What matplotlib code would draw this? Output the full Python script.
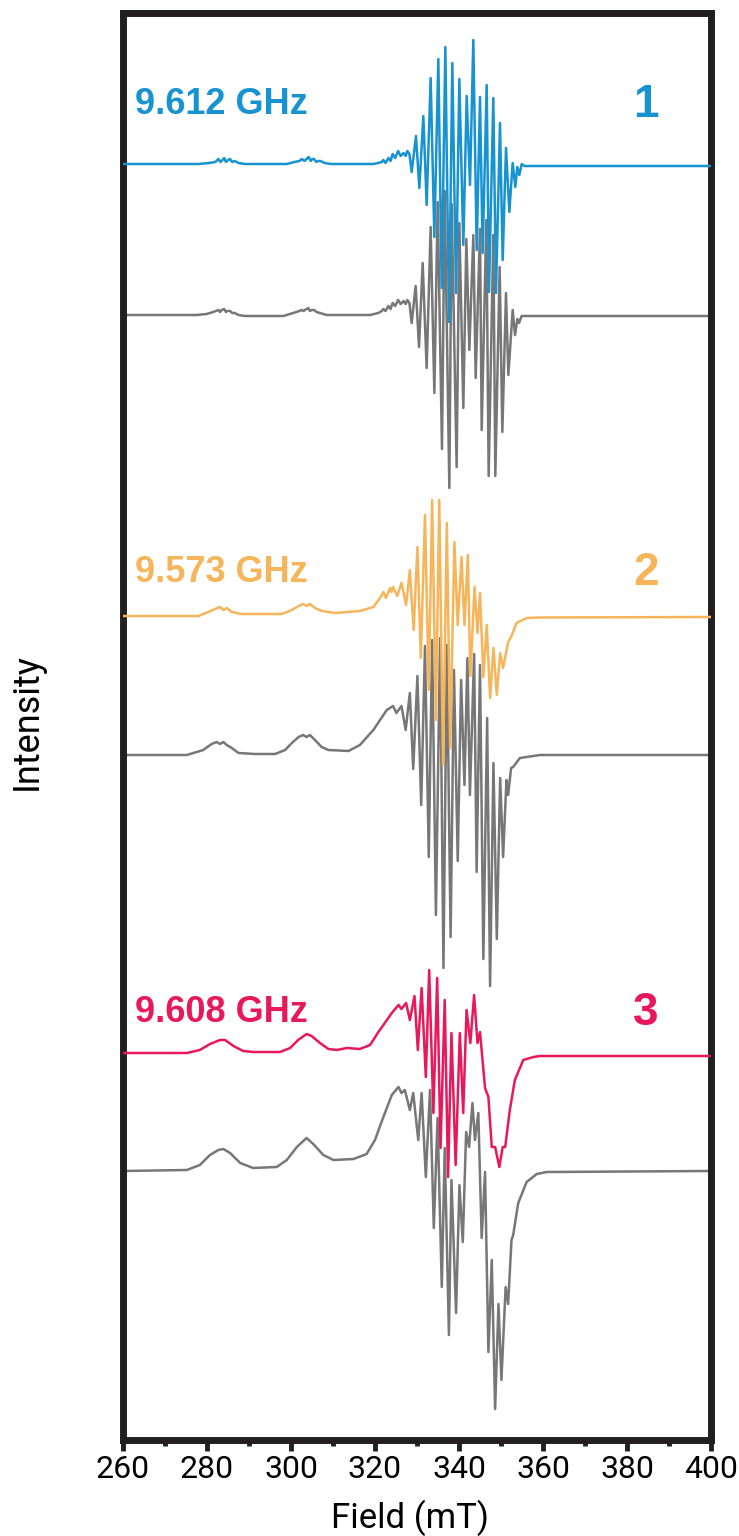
import matplotlib
matplotlib.use("Agg")
import matplotlib.pyplot as plt
from matplotlib.ticker import MultipleLocator

# spectrum 1 (9.612 GHz), experiment and simulation
FIELD_1 = [260.0, 278.0, 280.5, 282.0, 282.7, 283.2, 283.7, 284.1, 284.5, 285.0, 285.5, 286.0,
           286.6, 287.5, 289.0, 299.0, 300.8, 302.0, 302.6, 303.2, 303.7, 304.2, 304.7, 305.1,
           305.5, 306.0, 306.4, 307.0, 308.0, 309.5, 319.5, 320.8, 321.6, 322.0, 322.5, 323.2,
           323.7, 324.2, 324.8, 325.5, 326.1, 326.8, 327.3, 327.7, 328.2,
           328.73, 329.76, 330.56, 331.51, 332.30, 333.25, 334.13, 335.08, 335.87, 336.75,
           337.62, 338.41, 339.29, 340.08, 341.03, 341.83, 342.62, 343.41, 344.21, 345.00,
           345.63, 346.59, 347.14, 348.17, 348.81, 349.76, 350.40, 351.19, 351.98, 352.78,
           353.41, 353.89, 354.37, 354.92, 355.6, 357.0, 400.0]
EXP_1 = [0, 0, 1, 2, 5, 2, 4, 6, 2, 4, 5, 2,
         3, 1, 0, 0, 2, 3, 5, 3, 5, 7, 3, 5,
         5, 2, 3, 3, 1, 0, 0, 1, 2, 4, 1, 6,
         3, 10, 6, 13, 8, 11, 8, 13, 10,
         -8, 28, -24, 48, -41, 86, -73, 105, -124, 117,
         -158, 101, -129, 85, -81, 68, -21, 124, -86, 67,
         -89, 79, -128, 66, -129, 41, -96, 16, -48, 1,
         -23, -3, -11, 0, -2, -2, -2]

SIM_FIELD_1 = [260.0, 277.5, 279.9, 281.5, 282.7, 283.1, 283.5, 284.1, 284.5, 284.8, 285.5, 286.0,
               286.6, 287.5, 289.0, 298.2, 300.5, 302.0, 302.5, 303.0, 303.3, 304.1, 304.5, 304.9,
               305.5, 306.1, 306.9, 308.5, 318.8, 320.8, 321.6, 322.0, 322.5, 323.2, 323.7, 324.2,
               324.8, 325.5, 326.1, 326.8, 327.3, 327.7, 328.2,
               328.73, 329.68, 330.48, 331.35, 332.30, 333.25, 334.13, 334.92, 335.95, 336.59,
               337.70, 338.25, 339.44, 340.08, 341.03, 341.75, 342.46, 343.41, 343.97, 345.00,
               345.40, 346.51, 347.06, 348.17, 348.65, 349.68, 350.32, 351.19, 351.75, 352.78,
               353.33, 353.9, 354.3, 354.9, 356.0, 400.0]
SIM_1 = [0, 0, 1, 3, 5, 3, 5, 6, 3, 4, 4, 2,
         2, 0, -1, -1, 2, 4, 5, 4, 5, 7, 4, 5,
         5, 3, 2, 0, 0, 2, 4, 6, 4, 9, 6, 12,
         9, 15, 11, 14, 11, 15, 12,
         -8, 29, -32, 52, -53, 88, -78, 113, -134, 124,
         -173, 111, -152, 92, -93, 76, -35, 80, -63, 86,
         -115, 95, -161, 80, -161, 48, -117, 22, -60, 5,
         -20, -4, -8, -1, -1, -1]

# spectrum 2 (9.573 GHz)
FIELD_2 = [260.0, 278.0, 280.3, 281.9, 283.1, 283.9, 284.7, 285.9, 288.3, 297.8, 300.2, 301.8,
           302.9, 303.7, 304.5, 305.7, 307.3, 310.5, 316.4, 319.6, 321.2, 322.0, 322.6, 323.6,
           323.9, 324.3, 325.3, 326.3, 327.4, 328.3, 329.2, 330.1, 330.9, 331.9, 332.8, 333.6,
           334.5, 335.3, 336.2, 337.1, 337.9, 338.9, 339.7, 340.6, 341.3, 342.1, 342.7, 343.7,
           344.4, 345.0, 345.8, 346.6, 347.4, 348.2, 349.0, 349.8, 350.5, 351.7, 352.5, 353.7,
           356.1, 359.3, 400.0]
EXP_2 = [0, 0, 4, 7, 9, 6, 8, 4, 2, 2, 6, 10,
         12, 10, 12, 8, 5, 3, 5, 9, 18, 24, 18, 28,
         24, 29, 20, 33, 11, 46, -14, 69, -42, 101, -74, 116,
         -104, 116, -149, 93, -132, 74, -9, 59, -9, 61, -60, 29,
         -17, 23, -61, -9, -82, -32, -79, -37, -52, -26, -20, -7,
         -2, -1.5, -1]

SIM_FIELD_2 = [260.0, 275.2, 279.1, 281.1, 282.3, 283.1, 283.9, 284.7, 285.9, 287.5, 291.4, 296.2,
               298.6, 300.2, 301.8, 302.9, 303.7, 304.5, 305.7, 307.3, 308.9, 313.7, 316.4, 319.6,
               321.2, 322.8, 324.3, 325.1, 326.3, 327.3, 328.3, 329.1, 330.1, 331.0, 331.9, 332.8,
               333.6, 334.5, 335.5, 336.3, 337.1, 338.0, 338.8, 339.7, 340.5, 341.3, 342.0, 342.6,
               343.6, 344.2, 345.0, 345.8, 346.7, 347.4, 348.2, 349.0, 349.8, 350.5, 351.3, 351.7,
               352.4, 352.9, 354.5, 359.3, 400.0]
SIM_2 = [0, 0, 5, 11, 13, 11, 13, 10, 7, 2, 1, 1,
         5, 12, 18, 20, 18, 20, 15, 8, 5, 4, 10, 25,
         35, 45, 49, 42, 49, 25, 62, -14, 79, -50, 109, -102,
         115, -160, 117, -213, 110, -182, 85, -106, 75, -30, 97, -40,
         101, -117, 90, -204, 37, -231, -8, -184, -23, -102, -25, -40,
         -13, -12, -3, 0, 0]

# spectrum 3 (9.608 GHz)
FIELD_3 = [260.0, 275.2, 278.3, 280.7, 283.1, 284.3, 286.3, 288.6, 291.0, 297.4, 299.8, 301.7,
           303.7, 304.9, 306.9, 308.9, 310.9, 313.3, 316.4, 318.8, 319.6, 320.8, 322.0, 324.0,
           325.6, 326.3, 327.4, 328.3, 329.4, 330.2, 331.1, 332.1, 332.9, 333.9, 334.8, 335.6,
           336.6, 337.4, 338.2, 339.2, 340.2, 341.0, 341.8, 342.7, 343.6, 344.4, 345.0, 346.2,
           347.0, 347.8, 348.6, 349.6, 350.4, 351.0, 352.1, 353.3, 355.3, 357.7, 359.3, 400.0]
EXP_3 = [0, 0, 3, 9, 13, 13, 7, 2, 1, 1, 5, 13,
         19, 17, 10, 4, 3, 5, 4, 8, 13, 21, 28, 40,
         48, 44, 50, 33, 57, 3, 65, -24, 83, -60, 75, -95,
         53, -124, 20, -112, 20, -60, 43, 10, 58, 10, 21, -35,
         -44, -94, -94, -114, -94, -94, -57, -27, -7, -4, -3, -3]

SIM_FIELD_3 = [260.0, 275.2, 278.3, 280.7, 282.7, 283.9, 285.5, 287.9, 291.0, 296.6, 299.0, 301.4,
               303.7, 305.3, 307.7, 310.1, 314.9, 318.0, 320.0, 321.2, 322.0, 324.0, 325.6, 326.3,
               327.1, 328.3, 329.1, 330.3, 331.1, 332.1, 333.1, 334.0, 334.9, 335.9, 336.6, 337.6,
               338.2, 339.3, 340.1, 340.9, 341.7, 342.4, 343.2, 343.8, 344.6, 345.4, 346.2, 347.0,
               347.8, 348.6, 349.4, 350.1, 351.1, 351.7, 352.5, 352.9, 354.1, 356.1, 358.5, 360.9,
               400.0]
SIM_3 = [0, 1, 6, 16, 21, 22, 18, 8, 3, 4, 11, 24,
         33, 27, 16, 11, 12, 17, 31, 45, 54, 76, 84, 78,
         81, 61, 78, 31, 78, -6, 81, -57, 53, -116, 23, -164,
         -9, -142, -14, -71, 39, 24, 68, 31, 58, -67, -1, -181,
         -89, -238, -133, -209, -116, -133, -69, -64, -32, -11, -3, -1,
         0]

FREQ_LABELS = ["9.612 GHz", "9.573 GHz", "9.608 GHz"]
SAMPLE_LABELS = ["1", "2", "3"]

COLORS = ["#1793d1", "#f6b55a", "#e8185a"]
SIM_COLOR = "#777777"
# vertical offsets of each trace (same units as the intensities)
EXP_OFFSETS = [-164, -616, -1053]
SIM_OFFSETS = [-315, -755, -1171]
LABEL_Y = [-105, -573, -1013]

NARROW = ["Roboto", "DejaVu Sans"]
BOLD = ["Liberation Sans", "DejaVu Sans"]

fig = plt.figure(figsize=(7.39, 15.36), dpi=100)
ax = fig.add_axes([123 / 739, 0.0625, 588 / 739, 0.92904])

experiments = [(FIELD_1, EXP_1), (FIELD_2, EXP_2), (FIELD_3, EXP_3)]
simulations = [(SIM_FIELD_1, SIM_1), (SIM_FIELD_2, SIM_2), (SIM_FIELD_3, SIM_3)]

for i in range(3):
    sx, sy = simulations[i]
    ax.plot(sx, [v + SIM_OFFSETS[i] for v in sy], color=SIM_COLOR, lw=1.8,
            solid_joinstyle="round", zorder=2)
    ex, ey = experiments[i]
    ax.plot(ex, [v + EXP_OFFSETS[i] for v in ey], color=COLORS[i], lw=1.8,
            solid_joinstyle="round", zorder=3)
    ax.text(262.8, LABEL_Y[i], FREQ_LABELS[i], color=COLORS[i], fontsize=26,
            fontweight="bold", family=BOLD, ha="left", va="center")
    ax.text(384.5, LABEL_Y[i], SAMPLE_LABELS[i], color=COLORS[i], fontsize=33,
            fontweight="bold", family=BOLD, ha="center", va="center")

ax.set_xlim(260, 400)
ax.set_ylim(-1440, -13)
ax.set_yticks([])
ax.xaxis.set_major_locator(MultipleLocator(20))
ax.xaxis.set_minor_locator(MultipleLocator(10))
ax.tick_params(axis="x", which="major", direction="out", length=8, width=3.5, pad=3,
               labelsize=23, color="#231f20")
ax.tick_params(axis="x", which="minor", direction="out", length=4, width=3.5,
               color="#231f20")
for lab in ax.get_xticklabels():
    lab.set_family(NARROW)
for side in ["left", "right", "top", "bottom"]:
    ax.spines[side].set_linewidth(5)
    ax.spines[side].set_color("#231f20")

fig.text(410 / 739, 1 - 1518 / 1536, "Field (mT)", fontsize=25, family=NARROW,
         ha="center", va="center")
fig.text(27 / 739, 1 - 722 / 1536, "Intensity", fontsize=26, family=NARROW,
         rotation=90, ha="center", va="center")

fig.savefig("out.png", dpi=100)
